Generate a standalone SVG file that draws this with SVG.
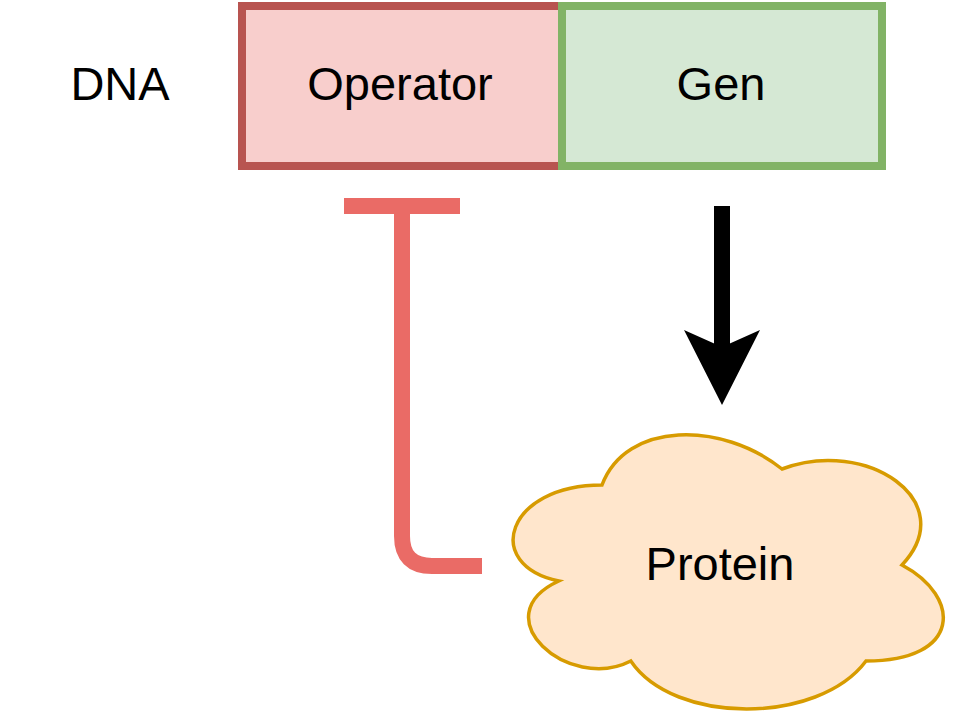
<svg xmlns="http://www.w3.org/2000/svg" width="964" height="728" viewBox="0 0 964 728">
<style>
.t{font-family:"Liberation Sans",Arial,sans-serif;font-size:47px;fill:#000;text-anchor:middle}
</style>
<rect width="964" height="728" fill="#fff"/>
<g id="dna-label"><text class="t" x="120" y="100">DNA</text></g>
<g id="operator">
<rect x="242" y="6" width="320" height="160" fill="#f8cecc" stroke="#b85450" stroke-width="8"/>
<text class="t" x="400" y="100">Operator</text>
</g>
<g id="gen">
<rect x="562" y="6" width="320" height="160" fill="#d5e8d4" stroke="#82b366" stroke-width="8"/>
<text class="t" x="721" y="100">Gen</text>
</g>
<g id="protein">
<path d="M602 485 C506 485 482 565 558.8 581 C482 616.2 568.4 693 630.8 661 C674 725 818 725 866 661 C962 661 962 597 902 565 C962 501 866 437 782 469 C722 421 626 421 602 485 Z" fill="#ffe6cc" stroke="#d79b00" stroke-width="3.5"/>
<text class="t" x="720" y="580">Protein</text>
</g>
<g id="connectors">
<path d="M402 206 L402 536 Q402 566 432 566 L482 566" fill="none" stroke="#ea6b66" stroke-width="16"/>
<line x1="344" y1="206" x2="460" y2="206" stroke="#ea6b66" stroke-width="16"/>
<line x1="722" y1="206" x2="722" y2="350" stroke="#000" stroke-width="16"/>
<polygon points="722,405 684,330 722,347 760,330" fill="#000"/>
</g>
</svg>
